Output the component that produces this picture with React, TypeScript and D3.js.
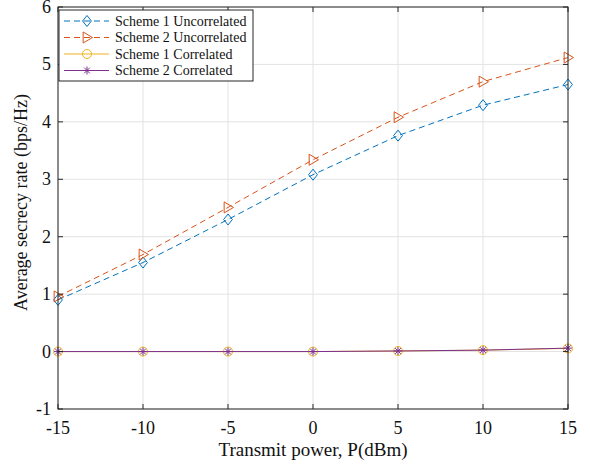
import React from "react";
import * as d3 from "d3";

const xTicks = [-15, -10, -5, 0, 5, 10, 15];
const yTicks = [-1, 0, 1, 2, 3, 4, 5, 6];
const powers = [-15, -10, -5, 0, 5, 10, 15];
const s1Uncorr = [0.9, 1.55, 2.3, 3.08, 3.76, 4.29, 4.65];
const s2Uncorr = [0.96, 1.69, 2.51, 3.34, 4.08, 4.7, 5.12];
const s1Corr = [0.0, 0.0, 0.0, 0.0, 0.01, 0.025, 0.055];
const s2Corr = [0.0, 0.0, 0.0, 0.0, 0.01, 0.025, 0.06];
const seriesNames = ["Scheme 1 Uncorrelated", "Scheme 2 Uncorrelated", "Scheme 1 Correlated", "Scheme 2 Correlated"];
const colors = ["#0072BD", "#D95319", "#EDB120", "#7E2F8E"];

const W = 590, H = 467;
const M = { left: 58, right: 22, top: 7, bottom: 58 };

function Marker({ kind, x, y, color }: { kind: number; x: number; y: number; color: string }) {
  if (kind === 0) {
    const r = 5.5;
    return <path d={`M${x},${y - r}L${x + r * 0.8},${y}L${x},${y + r}L${x - r * 0.8},${y}Z`} fill="none" stroke={color} strokeWidth={1} />;
  }
  if (kind === 1) {
    const r = 5.5;
    return <path d={`M${x + r},${y}L${x - r * 0.7},${y - r}L${x - r * 0.7},${y + r}Z`} fill="none" stroke={color} strokeWidth={1} />;
  }
  if (kind === 2) {
    return <circle cx={x} cy={y} r={4.5} fill="none" stroke={color} strokeWidth={1} />;
  }
  const r = 4;
  const d = r * 0.707;
  return (
    <path
      d={`M${x - r},${y}L${x + r},${y}M${x},${y - r}L${x},${y + r}M${x - d},${y - d}L${x + d},${y + d}M${x - d},${y + d}L${x + d},${y - d}`}
      stroke={color}
      strokeWidth={1}
    />
  );
}

export default function App() {
  const x = d3.scaleLinear().domain([-15, 15]).range([M.left, W - M.right]);
  const y = d3.scaleLinear().domain([-1, 6]).range([H - M.bottom, M.top]);
  const data = [s1Uncorr, s2Uncorr, s1Corr, s2Corr];
  const line = d3.line<number>().x((_, i) => x(powers[i])).y((v) => y(v));
  const font = "'Liberation Serif', 'Times New Roman', serif";
  const x0 = M.left, x1 = W - M.right, y0 = H - M.bottom, y1 = M.top;
  const axisColor = "#262626";

  const legX = 59, legY = 10, legW = 194, legH = 71;

  return (
    <svg width={W} height={H} style={{ position: "absolute", left: 0, top: 0, background: "#fff" }} fontFamily={font}>
      <rect x={0} y={0} width={W} height={H} fill="#fff" />
      {/* grid */}
      {xTicks.map((t) => (
        <line key={"gx" + t} x1={x(t)} x2={x(t)} y1={y0} y2={y1} stroke="#e3e3e3" strokeWidth={1} />
      ))}
      {yTicks.map((t) => (
        <line key={"gy" + t} x1={x0} x2={x1} y1={y(t)} y2={y(t)} stroke="#e3e3e3" strokeWidth={1} />
      ))}
      {/* series */}
      {data.map((vals, si) => (
        <g key={si}>
          <path
            d={line(vals) || ""}
            fill="none"
            stroke={colors[si]}
            strokeWidth={1}
            strokeDasharray={si < 2 ? "6,4" : undefined}
          />
          {vals.map((v, i) => (
            <Marker key={i} kind={si} x={x(powers[i])} y={y(v)} color={colors[si]} />
          ))}
        </g>
      ))}
      {/* box */}
      <rect x={x0} y={y1} width={x1 - x0} height={y0 - y1} fill="none" stroke={axisColor} strokeWidth={1} />
      {xTicks.map((t) => (
        <g key={"tx" + t}>
          <line x1={x(t)} x2={x(t)} y1={y0} y2={y0 - 5} stroke={axisColor} />
          <line x1={x(t)} x2={x(t)} y1={y1} y2={y1 + 5} stroke={axisColor} />
          <text x={x(t)} y={y0 + 25} textAnchor="middle" fontSize={18} fill="#111">
            {t}
          </text>
        </g>
      ))}
      {yTicks.map((t) => (
        <g key={"ty" + t}>
          <line x1={x0} x2={x0 + 5} y1={y(t)} y2={y(t)} stroke={axisColor} />
          <line x1={x1} x2={x1 - 5} y1={y(t)} y2={y(t)} stroke={axisColor} />
          <text x={x0 - 7} y={y(t) + 6} textAnchor="end" fontSize={18} fill="#111">
            {t}
          </text>
        </g>
      ))}
      <text x={(x0 + x1) / 2} y={456} textAnchor="middle" fontSize={19} fill="#111">
        Transmit power, P(dBm)
      </text>
      <text
        transform={`translate(27,202.5) rotate(-90)`}
        textAnchor="middle"
        fontSize={18}
        fill="#111"
      >
        Average secrecy rate (bps/Hz)
      </text>
      {/* legend */}
      <rect x={legX} y={legY} width={legW} height={legH} fill="#fff" stroke={axisColor} strokeWidth={1} />
      {seriesNames.map((name, i) => {
        const ly = legY + 11 + i * 16.5;
        return (
          <g key={name}>
            <line
              x1={legX + 5}
              x2={legX + 50}
              y1={ly}
              y2={ly}
              stroke={colors[i]}
              strokeWidth={1}
              strokeDasharray={i < 2 ? "6,4" : undefined}
            />
            <Marker kind={i} x={legX + 28} y={ly} color={colors[i]} />
            <text x={legX + 56} y={ly + 4.5} fontSize={14} fill="#111">
              {name}
            </text>
          </g>
        );
      })}
    </svg>
  );
}
